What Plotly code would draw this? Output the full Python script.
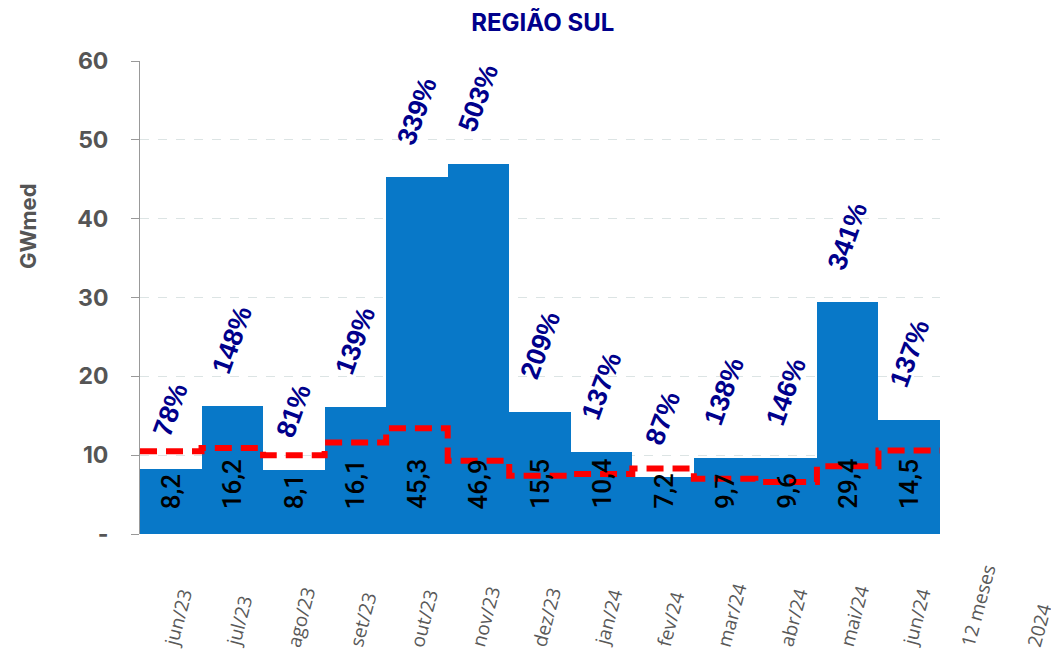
import numpy as np
import plotly.graph_objects as go

months = ['jun/23', 'jul/23', 'ago/23', 'set/23', 'out/23', 'nov/23', 'dez/23',
          'jan/24', 'fev/24', 'mar/24', 'abr/24', 'mai/24', 'jun/24']
extra_labels = ['12 meses', '2024']
ena_gwmed = [8.2, 16.2, 8.1, 16.1, 45.3, 46.9, 15.5, 10.4, 7.2, 9.7, 9.6, 29.4, 14.5]
mlt_gwmed = [10.5, 10.9, 10.0, 11.6, 13.4, 9.3, 7.4, 7.6, 8.3, 7.0, 6.6, 8.6, 10.6]
pct_mlt = [78, 148, 81, 139, 339, 503, 209, 137, 87, 138, 146, 341, 137]
y_ticks = [0, 10, 20, 30, 40, 50, 60]
y_ticktext = ['-', '10', '20', '30', '40', '50', '60']

NAVY = '#00008B'
GRAY = '#555555'
BLUE = '#0878C8'

n = len(months)
xpos = np.arange(n)

fig = go.Figure()
fig.add_trace(go.Bar(x=xpos, y=ena_gwmed, width=1.0, marker=dict(color=BLUE, line=dict(width=0)),
                     hoverinfo='skip', showlegend=False))

# step line for MLT spanning full bar widths
x_edges = np.arange(n + 1) - 0.5
y_step = list(mlt_gwmed) + [mlt_gwmed[-1]]
fig.add_trace(go.Scatter(x=x_edges, y=y_step, mode='lines', line_shape='hv',
                         line=dict(color='#FF0000', width=6, dash='17px,9px'),
                         hoverinfo='skip', showlegend=False))

annotations = []
# percentage labels above bars
for i, (v, p) in enumerate(zip(ena_gwmed, pct_mlt)):
    annotations.append(dict(x=i, y=v, xref='x', yref='y', text=f'{p}%', showarrow=False,
                            textangle=-70, xanchor='center', yanchor='bottom', yshift=26,
                            font=dict(family='Liberation Sans', size=27, color=NAVY, weight='bold')))
# value labels inside bars
for i, v in enumerate(ena_gwmed):
    annotations.append(dict(x=i, y=0, xref='x', yref='y', text=f'{v:.1f}'.replace('.', ','),
                            showarrow=False, textangle=-90, xanchor='center', yanchor='bottom',
                            yshift=23, font=dict(family='Roboto', size=26, color='black', weight=500)))
# category labels (positioned on the same category scale, extending past the last bar)
all_labels = months + extra_labels
for i, lab in enumerate(all_labels):
    annotations.append(dict(x=(i + 0.5) / n, y=-0.2495, xref='paper', yref='paper', text=lab,
                            showarrow=False, textangle=-75, xanchor='center', yanchor='bottom',
                            xshift=7,
                            font=dict(family='Open Sans', size=19, color='#595959')))
# y-axis title
annotations.append(dict(x=-0.14, y=0.651, xref='paper', yref='paper', text='GWmed', showarrow=False,
                        textangle=-90, xanchor='center', yanchor='middle',
                        font=dict(family='Inter', size=22, color=GRAY, weight='bold')))

fig.update_layout(
    width=1059, height=660,
    margin=dict(l=132, r=127, t=53, b=134),
    paper_bgcolor='white', plot_bgcolor='white',
    title=dict(text='REGIÃO SUL', x=0.505, xanchor='center', y=1 - 15 / 660, yanchor='middle',
               xref='container', yref='container',
               font=dict(family='Inter', size=24, color=NAVY, weight='bold')),
    bargap=0,
    annotations=annotations,
    xaxis=dict(range=[-0.5, n - 0.5], showticklabels=False, showgrid=False, zeroline=False,
               showline=False, ticks=''),
    yaxis=dict(range=[0, 60], tickvals=y_ticks, ticktext=y_ticktext, showgrid=True,
               gridcolor='#DCE4E4', griddash='dash', gridwidth=1, zeroline=False,
               showline=True, linecolor='#999999', linewidth=1, ticks='outside', ticklen=8,
               tickcolor='#999999', ticklabelstandoff=18,
               tickfont=dict(family='Inter', size=23, color=GRAY, weight='bold')),
)

fig.write_html('out.html')
